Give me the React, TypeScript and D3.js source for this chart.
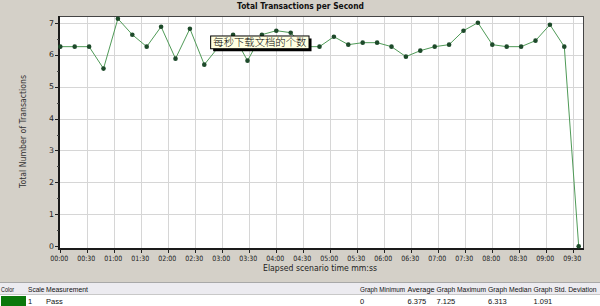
import React from "react";
import * as d3 from "d3";

const elapsedSeconds = [0, 16, 32, 48, 64, 80, 96, 112, 128, 144, 160, 176, 192, 208, 224, 240, 256, 272, 288, 304, 320, 336, 352, 368, 384, 400, 416, 432, 448, 464, 480, 496, 512, 528, 544, 560, 576];
const passValues = [6.25, 6.25, 6.25, 5.5625, 7.125, 6.625, 6.25, 6.875, 5.875, 6.8125, 5.6875, 6.25, 6.625, 5.8125, 6.625, 6.75, 6.6875, 6.25, 6.25, 6.5625, 6.3125, 6.375, 6.375, 6.25, 5.9375, 6.125, 6.25, 6.3125, 6.75, 7.0, 6.3125, 6.25, 6.25, 6.4375, 6.9375, 6.25, 0];
const xTickSeconds = [0, 30, 60, 90, 120, 150, 180, 210, 240, 270, 300, 330, 360, 390, 420, 450, 480, 510, 540, 570];
const xTickLabels = ["00:00", "00:30", "01:00", "01:30", "02:00", "02:30", "03:00", "03:30", "04:00", "04:30", "05:00", "05:30", "06:00", "06:30", "07:00", "07:30", "08:00", "08:30", "09:00", "09:30"];
const yTicks = [0, 1, 2, 3, 4, 5, 6, 7];
const yMinorTicks = [0.5, 1.5, 2.5, 3.5, 4.5, 5.5, 6.5];
const tableHeaders = ["Color", "Scale", "Measurement", "Graph Minimum", "Average", "Graph Maximum", "Graph Median", "Graph Std. Deviation"];
const tableRow = ["", "1", "Pass", "0", "6.375", "7.125", "6.313", "1.091"];
const tableColX = [1, 28, 46, 360, 407.5, 436.5, 488, 533.5];
const tableHeaderWidths = [13, 16.5, 42, 45, 27, 49.5, 43.5, 63];
const tooltipText = "每秒下载文档的个数";

const BG = "#d4d0c8";
const FONT = "'DejaVu Sans', 'Liberation Sans', Arial, sans-serif";
const TABLE_FONT = "'Liberation Sans', Arial, sans-serif";

export default function App() {
  const W = 600, H = 306;
  const plotLeft = 59, plotRight = 583, plotTop = 16, plotBottom = 249;
  const x = d3.scaleLinear().domain([0, 580]).range([60.3, 582.3]);
  const y = d3.scaleLinear().domain([0, 7]).range([246.3, 22.7]);
  const data = elapsedSeconds.map((t, i) => [t, passValues[i]] as [number, number]);
  const line = d3.line<[number, number]>().x(d => x(d[0])).y(d => y(d[1]));

  const tipX0 = x(166.5), tipX1 = x(275.8);
  const tipY0 = y(6.6), tipY1 = y(6.2);

  return (
    <svg width={W} height={H} style={{ position: "fixed", left: 0, top: 0, display: "block" }} fontFamily={FONT}>
      <rect x={0} y={0} width={W} height={H} fill={BG} />
      <text x={300.5} y={9} textAnchor="middle" fontSize={8.8} fontWeight="bold" fill="#111"
        textLength={127} lengthAdjust="spacingAndGlyphs">Total Transactions per Second</text>

      <rect x={plotLeft} y={plotTop} width={plotRight - plotLeft} height={plotBottom - plotTop} fill="#fff" />
      {yTicks.filter(v => v > 0).map(v => (
        <line key={"gy" + v} x1={plotLeft} x2={plotRight} y1={Math.round(y(v)) + 0.5} y2={Math.round(y(v)) + 0.5} stroke="#d6d6d6" strokeWidth={1} />
      ))}
      {xTickSeconds.filter(s => s > 0).map(s => (
        <line key={"gx" + s} x1={Math.round(x(s)) + 0.5} x2={Math.round(x(s)) + 0.5} y1={plotTop} y2={plotBottom} stroke="#d6d6d6" strokeWidth={1} />
      ))}
      <line x1={plotLeft} x2={plotRight} y1={plotTop + 0.5} y2={plotTop + 0.5} stroke="#444" strokeWidth={1} />
      <line x1={plotRight + 0.5} x2={plotRight + 0.5} y1={plotTop} y2={plotBottom} stroke="#444" strokeWidth={1} />

      <line x1={plotLeft} x2={plotLeft} y1={plotTop} y2={plotBottom + 1} stroke="#1a1a1a" strokeWidth={2} />
      <line x1={plotLeft - 1} x2={plotRight + 1} y1={plotBottom} y2={plotBottom} stroke="#1a1a1a" strokeWidth={2} />
      {yTicks.map(v => (
        <g key={"yt" + v}>
          <line x1={plotLeft - 4} x2={plotLeft} y1={Math.round(y(v)) + 0.5} y2={Math.round(y(v)) + 0.5} stroke="#222" />
          <text x={54} y={y(v) + 2.8} textAnchor="end" fontSize={7.8} fill="#222">{v}</text>
        </g>
      ))}
      {yMinorTicks.map(v => (
        <line key={"ym" + v} x1={plotLeft - 2} x2={plotLeft} y1={Math.round(y(v)) + 0.5} y2={Math.round(y(v)) + 0.5} stroke="#444" />
      ))}
      {xTickSeconds.map((s, i) => (
        <g key={"xt" + s}>
          <line x1={Math.round(x(s)) + 0.5} x2={Math.round(x(s)) + 0.5} y1={plotBottom} y2={plotBottom + 4} stroke="#222" />
          <text x={x(s) - 1} y={260.5} textAnchor="middle" fontSize={7.3} fill="#222" textLength={18} lengthAdjust="spacingAndGlyphs">{xTickLabels[i]}</text>
        </g>
      ))}
      <text x={320} y={270.5} textAnchor="middle" fontSize={8.6} fill="#222" textLength={114} lengthAdjust="spacingAndGlyphs">Elapsed scenario time mm:ss</text>
      <text transform={`translate(25.5,131.5) rotate(-90)`} textAnchor="middle" fontSize={8.6} fill="#333" textLength={113} lengthAdjust="spacingAndGlyphs">Total Number of Transactions</text>

      <path d={line(data) || ""} fill="none" stroke="#4f9a57" strokeWidth={1} />
      {data.map((d, i) => (
        <circle key={"m" + i} cx={x(d[0])} cy={y(d[1])} r={2.3} fill="#1d4a2a" />
      ))}

      <rect x={tipX0 + 3} y={tipY0 + 3} width={tipX1 - tipX0} height={tipY1 - tipY0} fill="#000" />
      <rect x={tipX0 + 0.5} y={tipY0 + 0.5} width={tipX1 - tipX0} height={tipY1 - tipY0} fill="#ffffe1" stroke="#000" strokeWidth={1} />
      <text x={(tipX0 + tipX1) / 2 + 0.5} y={tipY1 - 2.5} textAnchor="middle" fontSize={10.5} fill="#000"
        fontFamily="'Noto Sans CJK SC', sans-serif" fontWeight={300} textLength={93} lengthAdjust="spacingAndGlyphs">{tooltipText}</text>

      <line x1={0} x2={W} y1={282.5} y2={282.5} stroke="#a8a8a8" />
      <rect x={0} y={283} width={W} height={12} fill="#ecebf0" />
      <rect x={0} y={295} width={W} height={11} fill="#fff" />
      <line x1={0} x2={W} y1={294.5} y2={294.5} stroke="#c8c8c8" />
      {tableHeaders.map((h, i) => (
        <text key={"th" + i} x={tableColX[i]} y={292} fontSize={6.4} fill="#111" fontFamily={TABLE_FONT}
          textLength={tableHeaderWidths[i]} lengthAdjust="spacingAndGlyphs">{h}</text>
      ))}
      <rect x={1} y={296} width={25} height={10} fill="#0b780b" />
      {tableRow.map((c, i) => c ? (
        <text key={"td" + i} x={tableColX[i]} y={303.5} fontSize={7.5} fill="#111" fontFamily={TABLE_FONT}>{c}</text>
      ) : null)}
    </svg>
  );
}
